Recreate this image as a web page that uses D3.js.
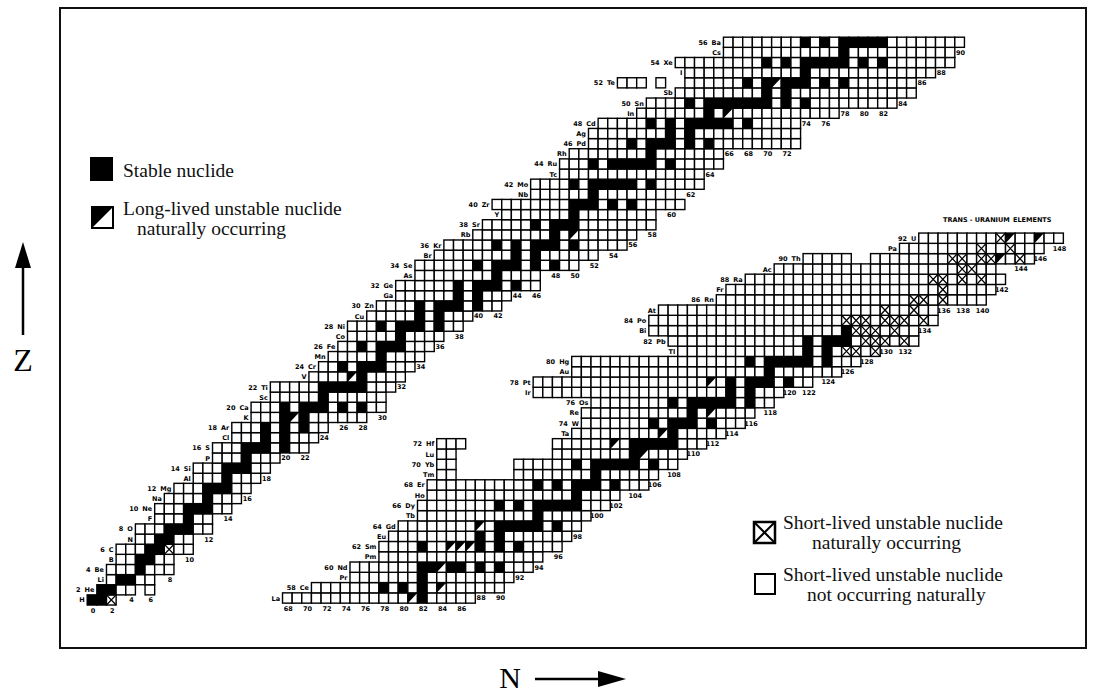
<!DOCTYPE html>
<html>
<head>
<meta charset="utf-8">
<script src="https://cdn.jsdelivr.net/npm/d3@7"></script>
<style>
  body { margin: 0; background: #fff; }
</style>
</head>
<body>
<div id="chart"></div>
<script>
// element symbols, index = Z
var symbols = ["n","H","He","Li","Be","B","C","N","O","F","Ne","Na","Mg","Al","Si","P","S","Cl","Ar","K","Ca",
  "Sc","Ti","V","Cr","Mn","Fe","Co","Ni","Cu","Zn","Ga","Ge","As","Se","Br","Kr","Rb","Sr","Y","Zr",
  "Nb","Mo","Tc","Ru","Rh","Pd","Ag","Cd","In","Sn","Sb","Te","I","Xe","Cs","Ba","La","Ce","Pr","Nd",
  "Pm","Sm","Eu","Gd","Tb","Dy","Ho","Er","Tm","Yb","Lu","Hf","Ta","W","Re","Os","Ir","Pt","Au","Hg",
  "Tl","Pb","Bi","Po","At","Rn","Fr","Ra","Ac","Th","Pa","U"];

// light band: [Z, first N, last N]
var lightSpans = [[1,0,2],[2,1,4],[2,6,6],[3,2,6],[4,2,8],[5,3,8],[6,3,10],[7,5,10],[8,5,12],[9,7,12],
  [10,7,14],[11,8,15],[12,9,16],[13,11,17],[14,11,18],[15,13,19],[16,13,22],[17,15,23],[18,15,24],
  [19,17,28],[20,17,30],[21,19,30],[22,19,31],[23,23,32],[24,24,33],[25,25,34],[26,26,35],[27,27,36],
  [28,27,38],[29,29,39],[30,30,42],[31,32,43],[32,32,46],[33,34,46],[34,34,50],[35,36,52],[36,37,55],
  [37,40,56],[38,41,58],[39,43,58],[40,42,61],[41,46,60],[42,46,63],[43,49,63],[44,49,65],[45,50,65],
  [46,52,73],[47,52,73],[48,53,73],[49,57,77],[50,58,83],[51,61,85],[52,55,57],[52,59,59],[52,62,85],
  [53,62,87],[54,61,89],[55,66,89],[56,66,90]];

// heavy band: [Z, first N, last N]
var heavySpans = [[57,68,87],[58,71,90],[59,75,91],[60,75,93],[61,78,94],[62,78,96],[63,79,97],[64,80,98],
  [65,82,99],[66,82,101],[67,83,102],[68,83,105],[69,84,85],[69,92,106],[70,84,85],[70,92,108],
  [71,84,85],[71,96,109],[72,84,86],[72,96,111],[73,98,113],[74,99,115],[75,99,116],[76,100,118],
  [77,94,119],[78,94,122],[79,98,125],[80,98,127],[81,109,129],[82,108,133],[83,106,133],[84,106,135],
  [85,107,135],[86,113,140],[87,114,141],[88,116,142],[89,119,141],[90,122,126],[90,129,145],
  [91,132,146],[92,134,148]];

// stable nuclides: [Z, [N...]]
var stableLight = [[1,[0,1]],[2,[1,2]],[3,[3,4]],[4,[5]],[5,[5,6]],[6,[6,7]],[7,[7,8]],[8,[8,9,10]],
  [9,[10]],[10,[10,11,12]],[11,[12]],[12,[12,13,14]],[13,[14]],[14,[14,15,16]],[15,[16]],
  [16,[16,17,18,20]],[17,[18,20]],[18,[18,20,22]],[19,[20,22]],[20,[20,22,23,24,26,28]],[21,[24]],
  [22,[24,25,26,27,28]],[23,[28]],[24,[26,28,29,30]],[25,[30]],[26,[28,30,31,32]],[27,[32]],
  [28,[30,32,33,34,36]],[29,[34,36]],[30,[34,36,37,38,40]],[31,[38,40]],[32,[38,40,41,42,44]],
  [33,[42]],[34,[40,42,43,44,46,48]],[35,[44,46]],[36,[42,44,46,47,48,50]],[37,[48]],
  [38,[46,48,49,50]],[39,[50]],[40,[50,51,52,54,56]],[41,[52]],[42,[50,52,53,54,55,56,58]],
  [44,[52,54,55,56,57,58,60]],[45,[58]],[46,[56,58,59,60,62,64]],[47,[60,62]],
  [48,[58,60,62,63,64,65,66,68]],[49,[64]],[50,[62,64,65,66,67,68,69,70,72,74]],[51,[70,72]],
  [52,[68,70,72,73,74,76,78]],[53,[74]],[54,[70,72,74,75,76,77,78,80,82]],[55,[78]],
  [56,[74,76,78,79,80,81,82]]];
var stableHeavy = [[57,[82]],[58,[78,80,82]],[59,[82]],[60,[82,83,85,86,88,90]],[62,[82,88,90,92]],
  [63,[88,90]],[64,[90,91,92,93,94,96]],[65,[94]],[66,[90,92,94,95,96,97,98]],[67,[98]],
  [68,[94,96,98,99,100,102]],[69,[100]],[70,[98,100,101,102,103,104,106]],[71,[104]],
  [72,[104,105,106,107,108]],[73,[108]],[74,[106,108,109,110,112]],[75,[110]],
  [76,[108,110,111,112,113,114,116]],[77,[114,116]],[78,[114,116,117,118,120]],[79,[118]],
  [80,[116,118,119,120,121,122,124]],[81,[122,124]],[82,[122,124,125,126]],[83,[126]]];

// long-lived unstable, naturally occurring: [Z, N]
var longLight = [[19,21],[23,27],[37,50],[49,66],[52,71]];
var longHeavy = [[57,81],[58,84],[60,84],[62,85],[62,86],[62,87],[64,88],[71,105],[72,102],[73,107],
  [75,112],[78,112],[90,142],[92,143],[92,146]];

// short-lived unstable, naturally occurring: [Z, N]
var shortLight = [[1,2],[6,8]];
var shortHeavy = [[90,144],[91,143],[92,142],[90,140],[88,138],[86,136],[84,134],[82,132],[83,131],
  [84,130],[82,128],[83,127],[84,126],[85,133],[81,129],[88,140],[89,139],[90,138],[88,136],[86,134],
  [84,132],[82,130],[83,129],[84,128],[81,127],[90,141],[91,140],[89,138],[90,137],[87,136],[88,135],
  [86,133],[84,131],[82,129],[83,128],[81,126],[84,127],[85,130]];

var width = 1096, height = 693;
var svg = d3.select("#chart").append("svg")
    .attr("width", width)
    .attr("height", height);

// frame
svg.append("rect")
    .attr("x", 60).attr("y", 8)
    .attr("width", 1026).attr("height", 640)
    .attr("fill", "none").attr("stroke", "#111").attr("stroke-width", 2);

// scales: x gives the left edge of column N, y gives the centre of row Z
var cw = 9.64;
var xA = d3.scaleLinear().domain([0, 90]).range([87.2, 87.2 + 90 * cw]);
var yA = d3.scaleLinear().domain([0, 56]).range([610.1, 610.1 - 56 * 10.14]);
var xB = d3.scaleLinear().domain([68, 148]).range([-373 + 68 * cw, -373 + 148 * cw]);
var yB = d3.scaleLinear().domain([57, 92]).range([598, 598 - 35 * 10.28]);

var labelFont = "'DejaVu Sans', sans-serif";

function smallText(g, x, y, anchor, t) {
    return g.append("text").attr("x", x).attr("y", y)
        .attr("text-anchor", anchor).attr("font-family", labelFont)
        .attr("font-size", "6.5px").attr("font-weight", "bold")
        .text(t);
}

function drawBand(spans, stable, longL, shortN, x, y, ch) {
    var g = svg.append("g");
    var key = function(z, n) { return z + "_" + n; };
    var stab = new Set();
    stable.forEach(function(d) { d[1].forEach(function(n) { stab.add(key(d[0], n)); }); });
    var ll = new Set(longL.map(function(d) { return key(d[0], d[1]); }));
    var sn = new Set(shortN.map(function(d) { return key(d[0], d[1]); }));

    var cells = [];
    spans.forEach(function(s) {
        for (var n = s[1]; n <= s[2]; n++) {
            var k = key(s[0], n);
            cells.push({ z: s[0], n: n,
                type: stab.has(k) ? "s" : ll.has(k) ? "l" : sn.has(k) ? "x" : "o" });
        }
    });

    var cell = g.selectAll("g.cell").data(cells).join("g")
        .attr("class", "cell")
        .attr("transform", function(d) { return "translate(" + x(d.n) + "," + (y(d.z) - ch / 2) + ")"; });
    cell.append("rect")
        .attr("width", cw).attr("height", ch)
        .attr("fill", function(d) { return d.type === "s" ? "#000" : "#fff"; })
        .attr("stroke", "#000").attr("stroke-width", 1.4);
    cell.filter(function(d) { return d.type === "l"; }).append("path")
        .attr("d", "M0,0H" + cw + "L0," + ch + "Z").attr("fill", "#000");
    cell.filter(function(d) { return d.type === "x"; }).append("path")
        .attr("d", "M0,0L" + cw + "," + ch + "M" + cw + ",0L0," + ch)
        .attr("stroke", "#000").attr("stroke-width", 1.3);

    // element labels at the left of each row
    var rowStart = d3.rollup(spans, function(v) { return d3.min(v, function(s) { return s[1]; }); }, function(s) { return s[0]; });
    rowStart.forEach(function(n0, z) {
        var lx = x(n0) - 2.5, ly = y(z) + 2.5;
        var sym = smallText(g, lx, ly, "end", symbols[z]);
        if (z % 2 === 0) {
            var w = sym.node().getComputedTextLength();
            smallText(g, lx - w - 4, ly, "end", z);
        }
    });

    // neutron number under the lowest cell of each even column
    var colLow = d3.rollup(cells, function(v) { return d3.min(v, function(c) { return c.z; }); }, function(c) { return c.n; });
    colLow.forEach(function(z, n) {
        if (n % 2 !== 0) return;
        smallText(g, x(n) + cw / 2 + 1, y(z) + ch / 2 + 7.5, "middle", n);
    });
}

drawBand(lightSpans, stableLight, longLight, shortLight, xA, yA, 10.14);
drawBand(heavySpans, stableHeavy, longHeavy, shortHeavy, xB, yB, 10.28);

smallText(svg, 943, 222, "start", "TRANS - URANIUM");
smallText(svg, 1013, 222, "start", "ELEMENTS");

// legends
var serif = "'Liberation Serif', 'Times New Roman', serif";
function legendText(x, y, lines, dx) {
    lines.forEach(function(t, i) {
        svg.append("text").attr("x", x + (i ? dx : 0)).attr("y", y + i * 20)
            .attr("font-family", serif).attr("font-size", "19.5px")
            .attr("fill", "#111").text(t);
    });
}
svg.append("rect").attr("x", 90).attr("y", 157).attr("width", 23).attr("height", 24).attr("fill", "#000");
legendText(123, 177, ["Stable nuclide"], 0);

svg.append("rect").attr("x", 92).attr("y", 207).attr("width", 21).attr("height", 21)
    .attr("fill", "#fff").attr("stroke", "#000").attr("stroke-width", 2);
svg.append("path").attr("d", "M92,207H113L92,228Z").attr("fill", "#000");
legendText(123, 215, ["Long-lived unstable nuclide", "naturally occurring"], 14);

svg.append("rect").attr("x", 754).attr("y", 522).attr("width", 21).attr("height", 21)
    .attr("fill", "#fff").attr("stroke", "#000").attr("stroke-width", 2.5);
svg.append("path").attr("d", "M754,522L775,543M775,522L754,543").attr("stroke", "#000").attr("stroke-width", 2);
legendText(783, 529, ["Short-lived unstable nuclide", "naturally occurring"], 29);

svg.append("rect").attr("x", 755).attr("y", 574).attr("width", 20).attr("height", 20)
    .attr("fill", "#fff").attr("stroke", "#000").attr("stroke-width", 2);
legendText(783, 581, ["Short-lived unstable nuclide", "not occurring naturally"], 24);

// axis arrows
svg.append("line").attr("x1", 23).attr("y1", 335).attr("x2", 23).attr("y2", 262)
    .attr("stroke", "#000").attr("stroke-width", 2.5);
svg.append("path").attr("d", "M23,242L15,268L31,268Z").attr("fill", "#000");
svg.append("text").attr("x", 23).attr("y", 371).attr("text-anchor", "middle")
    .attr("font-family", serif).attr("font-size", "32px").text("Z");

svg.append("text").attr("x", 510).attr("y", 688).attr("text-anchor", "middle")
    .attr("font-family", serif).attr("font-size", "30px").text("N");
svg.append("line").attr("x1", 535).attr("y1", 679).attr("x2", 605).attr("y2", 679)
    .attr("stroke", "#000").attr("stroke-width", 2.5);
svg.append("path").attr("d", "M626,679L598,671L598,687Z").attr("fill", "#000");
</script>
</body>
</html>
